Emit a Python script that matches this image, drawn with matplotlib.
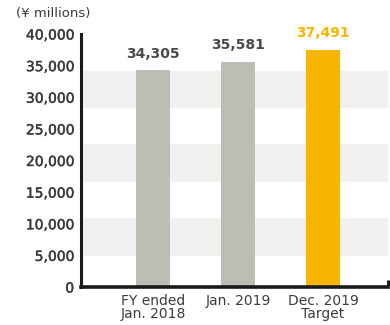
import matplotlib.pyplot as plt
import matplotlib.patheffects as pe

# net sales, yen millions
periods = ["FY ended\nJan. 2018", "Jan. 2019", "Dec. 2019\nTarget"]
sales = [34305, 35581, 37491]
yticks = [0, 5000, 10000, 15000, 20000, 25000, 30000, 35000, 40000]

grey = '#bdbdb6'
gold = '#f7b500'
text_col = '#3c3c3c'
band_col = '#f1f1ef'

plt.rcParams['font.family'] = ['DejaVu Sans']

fig = plt.figure(figsize=(3.9, 3.25), dpi=100)
ax = fig.add_axes([81/390, 38/325, 307/390, 253/325])

# light background stripes
for lo, hi in [(4900, 10900), (16600, 22600), (28300, 34200)]:
	ax.axhspan(lo, hi, color=band_col, zorder=0, lw=0)

colors = [grey, grey, gold]
xs = range(len(sales))
ax.bar(xs, sales, width=0.4, color=colors, zorder=2)

for x, v, c in zip(xs, sales, colors):
	lc = gold if c == gold else '#4a4a4a'
	ax.text(x, v + 1500, "{:,}".format(v), ha='center', va='bottom',
		fontsize=10, fontweight='bold', color=lc)

ax.set_xlim(-0.847, 2.765)
ax.set_ylim(0, 40000)
ax.set_yticks(yticks)
ax.set_yticklabels(["{:,}".format(t) for t in yticks], fontsize=10, color='#3a3a3a')
ax.set_xticks(list(xs))
ax.set_xticklabels(periods, fontsize=10, color=text_col, linespacing=0.95)
ax.tick_params(axis='both', length=0)
ax.tick_params(axis='y', pad=5)
ax.tick_params(axis='x', pad=5)

# slightly heavier y labels
for t in ax.get_yticklabels():
	t.set_path_effects([pe.withStroke(linewidth=0.3, foreground='#3a3a3a')])

for s in ['top', 'right']:
	ax.spines[s].set_visible(False)
ax.spines['left'].set_linewidth(2.2)
ax.spines['bottom'].set_linewidth(2.6)
ax.spines['left'].set_color('#1a1a1a')
ax.spines['bottom'].set_color('#1a1a1a')
ax.plot([1, 1], [0, 0.028], transform=ax.transAxes, color='#1a1a1a',
	lw=2.2, clip_on=False, solid_capstyle='butt')

fig.text(16/390, 1 - 14/325, "(¥ millions)", fontsize=9.5, color=text_col,
	ha='left', va='center')

fig.savefig("out.png", dpi=100)
